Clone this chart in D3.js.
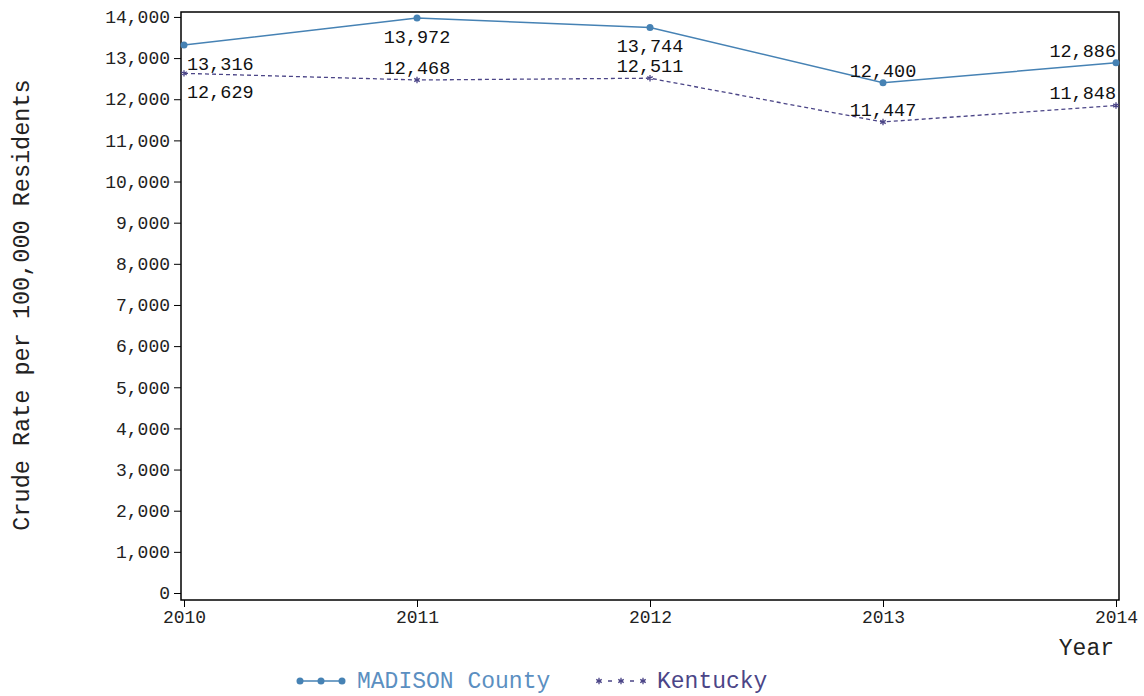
<!DOCTYPE html>
<html>
<head>
<meta charset="utf-8">
<script src="https://cdn.jsdelivr.net/npm/d3@7"></script>
<style>
  body { margin: 0; background: #fff; }
  svg text { font-family: "Liberation Mono", "Courier New", monospace; }
</style>
</head>
<body>
<svg id="chart" width="1144" height="696"></svg>
<script>
// data
const years = [2010, 2011, 2012, 2013, 2014];
const madison = [13316, 13972, 13744, 12400, 12886];
const kentucky = [12629, 12468, 12511, 11447, 11848];
const yTicks = [0, 1000, 2000, 3000, 4000, 5000, 6000, 7000, 8000, 9000, 10000, 11000, 12000, 13000, 14000];
// label placement: 1 = below point, -1 = above
const madisonPos = [1, 1, 1, -1, -1];
const kentuckyPos = [1, -1, -1, -1, -1];

const svg = d3.select('#chart');
const plotLeft = 181, plotRight = 1119, plotTop = 12, plotBottom = 600;

const x = d3.scaleLinear().domain([2010, 2014]).range([184, 1116]);
const y = d3.scaleLinear().domain([-170, 14120]).range([plotBottom, plotTop]);

const madColor = '#4682b4';
const kyColor = '#4b4587';

// frame
svg.append('rect')
  .attr('x', plotLeft).attr('y', plotTop)
  .attr('width', plotRight - plotLeft).attr('height', plotBottom - plotTop)
  .attr('fill', 'none').attr('stroke', '#000').attr('stroke-width', 1.5);

// y axis
const yAxis = svg.append('g')
  .attr('transform', 'translate(' + plotLeft + ',0)')
  .call(d3.axisLeft(y).tickValues(yTicks).tickSize(7).tickPadding(4).tickFormat(d3.format(',')));
yAxis.select('.domain').remove();
yAxis.selectAll('text').attr('font-size', '18px').attr('fill', '#222')
  .style('font-family', '"Liberation Mono", monospace');

// x axis
const xAxis = svg.append('g')
  .attr('transform', 'translate(0,' + plotBottom + ')')
  .call(d3.axisBottom(x).tickValues(years).tickSize(7).tickPadding(3).tickFormat(d3.format('d')));
xAxis.select('.domain').remove();
xAxis.selectAll('text').attr('font-size', '18px').attr('fill', '#222')
  .style('font-family', '"Liberation Mono", monospace');

// axis titles
svg.append('text')
  .attr('transform', 'translate(29,305) rotate(-90)')
  .attr('text-anchor', 'middle')
  .attr('font-size', '23.5px')
  .attr('fill', '#222')
  .text('Crude Rate per 100,000 Residents');

svg.append('text')
  .attr('x', 1114).attr('y', 655)
  .attr('text-anchor', 'end')
  .attr('font-size', '23px')
  .attr('fill', '#222')
  .text('Year');

const line = d3.line()
  .x(function(d, i) { return x(years[i]); })
  .y(function(d) { return y(d); });

// madison series
svg.append('path')
  .datum(madison)
  .attr('d', line)
  .attr('fill', 'none')
  .attr('stroke', madColor)
  .attr('stroke-width', 1.5);

svg.selectAll('.mad-pt')
  .data(madison)
  .enter().append('circle')
  .attr('class', 'mad-pt')
  .attr('cx', function(d, i) { return x(years[i]); })
  .attr('cy', function(d) { return y(d); })
  .attr('r', 3.5)
  .attr('fill', madColor);

// kentucky series
svg.append('path')
  .datum(kentucky)
  .attr('d', line)
  .attr('fill', 'none')
  .attr('stroke', kyColor)
  .attr('stroke-width', 1.3)
  .attr('stroke-dasharray', '4,3');

const star = d3.symbol().type(d3.symbolAsterisk).size(28);
svg.selectAll('.ky-pt')
  .data(kentucky)
  .enter().append('path')
  .attr('class', 'ky-pt')
  .attr('transform', function(d, i) { return 'translate(' + x(years[i]) + ',' + y(d) + ')'; })
  .attr('d', star)
  .attr('fill', 'none')
  .attr('stroke', kyColor)
  .attr('stroke-width', 1.3);

// data labels
function anchorFor(i) {
  if (i === 0) return 'start';
  if (i === years.length - 1) return 'end';
  return 'middle';
}
function addLabels(values, pos) {
  svg.append('g').selectAll('text')
    .data(values)
    .enter().append('text')
    .attr('x', function(d, i) { return x(years[i]) + (i === 0 ? 3 : 0); })
    .attr('y', function(d, i) { return y(d) + (pos[i] > 0 ? 25 : -6); })
    .attr('text-anchor', function(d, i) { return anchorFor(i); })
    .attr('font-size', '18.5px')
    .attr('fill', '#111')
    .text(function(d) { return d3.format(',')(d); });
}
addLabels(madison, madisonPos);
addLabels(kentucky, kentuckyPos);

// legend
const lg = svg.append('g').attr('transform', 'translate(0,681)');
lg.append('line').attr('x1', 299).attr('x2', 345).attr('y1', 0).attr('y2', 0)
  .attr('stroke', madColor).attr('stroke-width', 1.5);
[300, 321, 342].forEach(function(px) {
  lg.append('circle').attr('cx', px).attr('cy', 0).attr('r', 3.5).attr('fill', madColor);
});
lg.append('text').attr('x', 357).attr('y', 7).attr('font-size', '23px')
  .attr('fill', '#5b8fc1').text('MADISON County');

lg.append('line').attr('x1', 597).attr('x2', 645).attr('y1', 0).attr('y2', 0)
  .attr('stroke', kyColor).attr('stroke-width', 1.3).attr('stroke-dasharray', '4,7');
[599, 621, 643].forEach(function(px) {
  lg.append('path').attr('transform', 'translate(' + px + ',0)').attr('d', star)
    .attr('fill', 'none').attr('stroke', kyColor).attr('stroke-width', 1.3);
});
lg.append('text').attr('x', 657).attr('y', 7).attr('font-size', '23px')
  .attr('fill', kyColor).text('Kentucky');
</script>
</body>
</html>
